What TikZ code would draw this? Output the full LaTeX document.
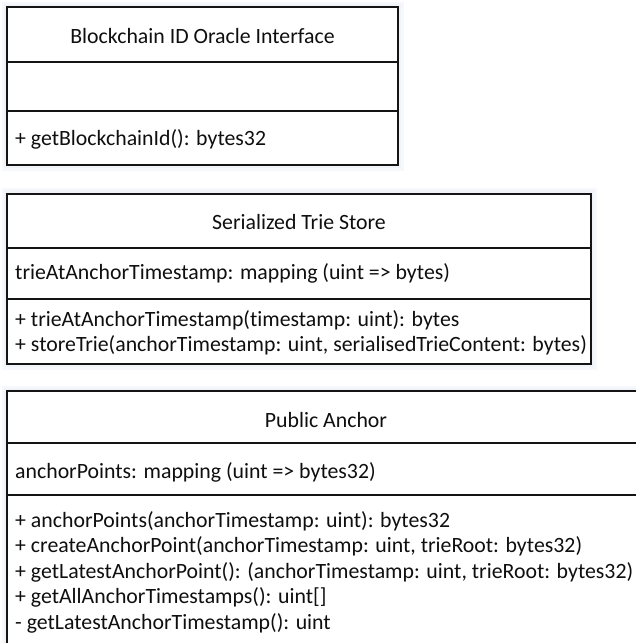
\documentclass[tikz,border=0pt]{standalone}
\usepackage{fontspec}
\setmainfont{Carlito}[Ligatures={NoCommon}]
\definecolor{linec}{RGB}{20,20,20}
\definecolor{textc}{RGB}{15,15,15}
\definecolor{shadowa}{RGB}{247,248,252}
\definecolor{shadowb}{RGB}{240,243,248}
\begin{document}
\begin{tikzpicture}[x=1pt,y=-1pt,
  comp/.style={draw=linec, line width=1.3pt, fill=white, anchor=north west, inner sep=0pt, outer sep=0pt},
  bigtxt/.style={font=\fontsize{21.8}{25.5}\selectfont, text=textc, inner sep=0pt, anchor=west},
  glowa/.style={fill=shadowa, draw=none},
  glowb/.style={fill=shadowb, draw=none}]
\useasboundingbox (0,0) rectangle (636,643);
\clip (0,0) rectangle (636,643);
% soft shadows
\fill[glowa] (2,2) rectangle (404,171);
\fill[glowb] (4,4) rectangle (401,168);
\fill[glowa] (2,188) rectangle (597,370);
\fill[glowb] (4,190) rectangle (594,367);
\fill[glowa] (2,386) rectangle (660,660);
\fill[glowb] (4,388) rectangle (660,660);
% Box 1: Blockchain ID Oracle Interface
\node[comp, minimum width=391pt, minimum height=55pt] (b1t) at (7,7) {};
\node[comp, minimum width=391pt, minimum height=49pt] (b1a) at (7,62) {};
\node[comp, minimum width=391pt, minimum height=54pt] (b1m) at (7,111) {};
\node[bigtxt, anchor=center] (b1title) at ([yshift=-1.5pt]b1t.center) {Blockchain ID Oracle Interface};
\node[bigtxt] (b1m1) at (15,139) {+ getBlockchainId(): bytes32};
% Box 2: Serialized Trie Store
\node[comp, minimum width=584pt, minimum height=54pt] (b2t) at (7,194) {};
\node[comp, minimum width=584pt, minimum height=52pt] (b2a) at (7,248) {};
\node[comp, minimum width=584pt, minimum height=65pt] (b2m) at (7,299) {};
\node[bigtxt, anchor=center] (b2title) at ([yshift=-1pt]b2t.center) {Serialized Trie Store};
\node[bigtxt] (b2a1) at (15,273) {trieAtAnchorTimestamp: mapping (uint => bytes)};
\node[bigtxt] (b2m1) at (15,320) {+ trieAtAnchorTimestamp(timestamp: uint): bytes};
\node[bigtxt] (b2m2) at (15,345.5) {+ storeTrie(anchorTimestamp: uint, serialisedTrieContent: bytes)};
% Box 3: Public Anchor
\node[comp, minimum width=638pt, minimum height=52pt] (b3t) at (7,391) {};
\node[comp, minimum width=638pt, minimum height=52pt] (b3a) at (7,443) {};
\node[comp, minimum width=638pt, minimum height=170pt] (b3m) at (7,495) {};
\node[bigtxt, anchor=center] (b3title) at ([yshift=-3pt]b3t.center) {Public Anchor};
\node[bigtxt] (b3a1) at (15,472) {anchorPoints: mapping (uint => bytes32)};
\node[bigtxt] (b3m1) at (15,521) {+ anchorPoints(anchorTimestamp: uint): bytes32};
\node[bigtxt] (b3m2) at (15,546.5) {+ createAnchorPoint(anchorTimestamp: uint, trieRoot: bytes32)};
\node[bigtxt] (b3m3) at (15,572) {+ getLatestAnchorPoint(): (anchorTimestamp: uint, trieRoot: bytes32)};
\node[bigtxt] (b3m4) at (15,597.5) {+ getAllAnchorTimestamps(): uint[]};
\node[bigtxt] (b3m5) at (15,623) {- getLatestAnchorTimestamp(): uint};
\end{tikzpicture}
\end{document}
